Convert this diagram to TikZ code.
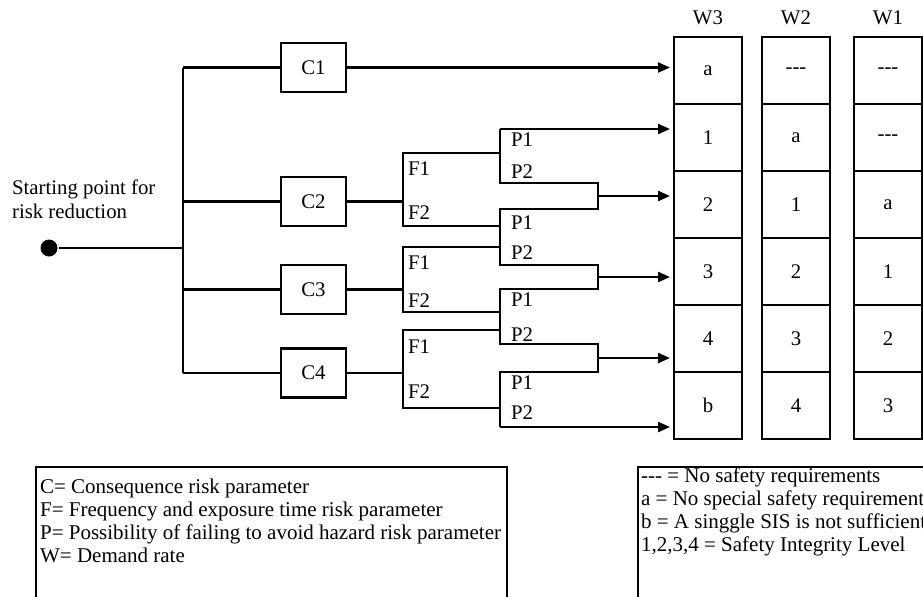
\documentclass[tikz,border=0pt]{standalone}
\usepackage{fontspec}
\setmainfont{Liberation Serif}
\usetikzlibrary{positioning,arrows.meta}

\begin{document}
\begin{tikzpicture}[
    x=0.5pt,y=-0.5pt,
    font=\fontsize{10.4}{12}\selectfont,
    line width=1.1pt,
    cbox/.style={draw,line width=1.3pt,minimum width=32.5pt,minimum height=24.5pt},
    cell/.style={draw,line width=1.3pt,outer sep=0pt,minimum width=34pt,minimum height=33.5pt},
    lbl/.style={anchor=west,inner sep=0pt},
    arr/.style={-{Triangle[length=6pt,width=5pt]},shorten >=2pt},
    key/.style={align=left,anchor=west,inner sep=0pt,font=\fontsize{10.5}{11.5}\selectfont},
    node distance=0pt
  ]
    \useasboundingbox (0,0) rectangle (923,596);

    % result columns
    \node (hw3) at (708,18) {W3};
    \node (hw2) at (796,18) {W2};
    \node (hw1) at (888,18) {W1};
    \node[cell] (w3a) at (708,70.5) {a};
    \node[cell,below=of w3a] (w3b) {1};
    \node[cell,below=of w3b] (w3c) {2};
    \node[cell,below=of w3c] (w3d) {3};
    \node[cell,below=of w3d] (w3e) {4};
    \node[cell,below=of w3e] (w3f) {b};
    \node[cell] (w2a) at (796,70.5) {-{}-{}-};
    \node[cell,below=of w2a] (w2b) {a};
    \node[cell,below=of w2b] (w2c) {1};
    \node[cell,below=of w2c] (w2d) {2};
    \node[cell,below=of w2d] (w2e) {3};
    \node[cell,below=of w2e] (w2f) {4};
    \node[cell] (w1a) at (888,70.5) {-{}-{}-};
    \node[cell,below=of w1a] (w1b) {-{}-{}-};
    \node[cell,below=of w1b] (w1c) {a};
    \node[cell,below=of w1c] (w1d) {1};
    \node[cell,below=of w1d] (w1e) {2};
    \node[cell,below=of w1e] (w1f) {3};

    % start and consequence
    \node[lbl,align=left] (title) at (11,199) {Starting point for\\risk reduction};
    \node[circle,fill,inner sep=0pt,minimum size=8.5pt] (start) at (49,248) {};
    \coordinate (fork) at (183,248);
    \node[cbox] (c1) at (313.5,67.5) {C1};
    \node[cbox] (c2) at (313.5,201.5) {C2};
    \node[cbox] (c3) at (313.5,289.5) {C3};
    \node[cbox] (c4) at (313.5,373) {C4};
    \draw (start) -- (fork);
    \draw (fork |- c1) -- (fork |- c4);
    \draw (fork |- c1) -- (c1);
    \draw (fork |- c2) -- (c2);
    \draw (fork |- c3) -- (c3);
    \draw (fork |- c4) -- (c4);
    \draw[arr] (c1) -- (c1 -| w3a.west);

    % possibility branches
    \coordinate (pa) at (500,129);
    \coordinate (pb) at (500,183);
    \coordinate (mb) at (598,183);
    \coordinate (mc) at (598,209);
    \coordinate (pc) at (500,209);
    \coordinate (pd) at (500,265);
    \coordinate (md) at (598,265);
    \coordinate (me) at (598,289);
    \coordinate (pe) at (500,289);
    \coordinate (pf) at (500,344);
    \coordinate (mf) at (598,344);
    \coordinate (mg) at (598,372);
    \coordinate (pg) at (500,372);
    \coordinate (ph) at (500,427);
    \coordinate (m1) at (598,196);
    \coordinate (m2) at (598,277);
    \coordinate (m3) at (598,358);
    \draw (pa) -- (pb) -- (mb) -- (mc) -- (pc) -- (pd) -- (md) -- (me) -- (pe)
      -- (pf) -- (mf) -- (mg) -- (pg) -- (ph);
    \draw[arr] (pa) -- (pa -| w3a.west);
    \draw[arr] (m1) -- (m1 -| w3a.west);
    \draw[arr] (m2) -- (m2 -| w3a.west);
    \draw[arr] (m3) -- (m3 -| w3a.west);
    \draw[arr] (ph) -- (ph -| w3a.west);

    % frequency branches
    \coordinate (f2t) at (403,153);
    \coordinate (f2b) at (403,226);
    \coordinate (f3t) at (403,247);
    \coordinate (f3b) at (403,312);
    \coordinate (f4t) at (403,330);
    \coordinate (f4b) at (403,408);
    \draw (c2) -- (c2 -| f2t);
    \draw (c3) -- (c3 -| f3t);
    \draw (c4) -- (c4 -| f4t);
    \draw (f2t -| pb) -- (f2t) -- (f2b) -- (f2b -| pb);
    \draw (f3t -| pb) -- (f3t) -- (f3b) -- (f3b -| pb);
    \draw (f4t -| pb) -- (f4t) -- (f4b) -- (f4b -| pb);

    % branch labels
    \node[lbl] (f21) at (407,169) {F1};
    \node[lbl] (f22) at (407,213) {F2};
    \node[lbl] (f31) at (407,263) {F1};
    \node[lbl] (f32) at (407,301) {F2};
    \node[lbl] (f41) at (407,347) {F1};
    \node[lbl] (f42) at (407,392) {F2};
    \node[lbl] (p21) at (510,140) {P1};
    \node[lbl] (p22) at (510,172) {P2};
    \node[lbl] (p23) at (510,223) {P1};
    \node[lbl] (p31) at (510,253) {P2};
    \node[lbl] (p32) at (510,300) {P1};
    \node[lbl] (p41) at (510,335) {P2};
    \node[lbl] (p42) at (510,383) {P1};
    \node[lbl] (p43) at (510,413) {P2};

    % keys
    \draw[line width=0.6pt] (36,467) rectangle (507,640);
    \node[key] (keyl) at (39,521) {C= Consequence risk parameter\\
      F= Frequency and exposure time risk parameter\\
      P= Possibility of failing to avoid hazard risk parameter\\
      W= Demand rate};
    \draw[line width=0.6pt] (638,467) rectangle (960,640);
    \node[key] (keyr) at (640,512) {-{}-{}- = No safety requirements\\
      a = No special safety requirements\\
      b = A singgle SIS is not sufficient\\
      1,2,3,4 = Safety Integrity Level};
\end{tikzpicture}
\end{document}
